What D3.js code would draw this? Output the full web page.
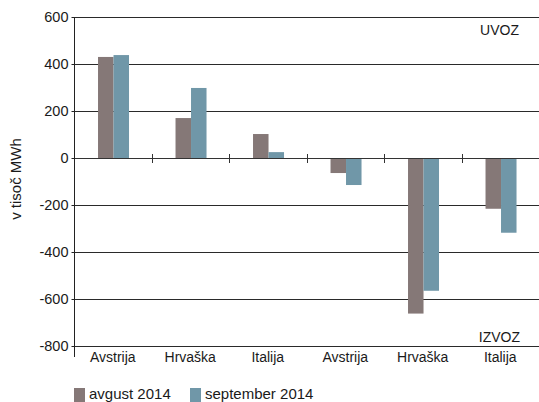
<!DOCTYPE html>
<html><head><meta charset="utf-8">
<script src="https://cdn.jsdelivr.net/npm/d3@7"></script>
<style>body{margin:0;background:#fff}svg{display:block}text{font-family:"Liberation Sans",Arial,sans-serif;fill:#1a1a1a}</style>
</head><body><div id="chart"></div>
<script>
const categories = ["Avstrija","Hrvaška","Italija","Avstrija","Hrvaška","Italija"];
const seriesNames = ["avgust 2014","september 2014"];
const avgust = [430, 170, 102, -64, -662, -216];
const september = [438, 298, 25, -115, -565, -318];
const yTicks = [600,400,200,0,-200,-400,-600,-800];
const colors = ["#857877","#7097a8"];

const W=539,H=402;
const mLeft=74,mRight=539,mTop=17,mBottom=346;
const svg=d3.select("#chart").append("svg").attr("width",W).attr("height",H);
const y=d3.scaleLinear().domain([-800,600]).range([mBottom,mTop]);
const x=d3.scaleBand().domain(d3.range(categories.length)).range([mLeft,mRight]);
const x1=d3.scaleBand().domain(seriesNames).range([x.bandwidth()*0.31,x.bandwidth()*0.71]);

// gridlines
svg.append("g").selectAll("line").data(yTicks).join("line")
 .attr("x1",mLeft).attr("x2",mRight)
 .attr("y1",d=>Math.round(y(d))+0.5).attr("y2",d=>Math.round(y(d))+0.5)
 .attr("stroke","#2a2a2a").attr("stroke-width",1);

// bars
const data=categories.map((c,i)=>({i,vals:[avgust[i],september[i]]}));
svg.append("g").selectAll("g").data(data).join("g")
 .attr("transform",d=>`translate(${x(d.i)},0)`)
 .selectAll("rect").data(d=>d.vals.map((v,k)=>({v,k}))).join("rect")
 .attr("x",d=>x1(seriesNames[d.k])).attr("width",x1.bandwidth())
 .attr("y",d=>y(Math.max(0,d.v))).attr("height",d=>Math.abs(y(d.v)-y(0)))
 .attr("fill",d=>colors[d.k]);

// zero line on top
svg.append("line").attr("x1",mLeft).attr("x2",mRight)
 .attr("y1",Math.round(y(0))+0.5).attr("y2",Math.round(y(0))+0.5)
 .attr("stroke","#333");

// category separator ticks on zero line
svg.append("g").selectAll("line").data(d3.range(1,categories.length)).join("line")
 .attr("x1",d=>Math.round(x(d))+0.5).attr("x2",d=>Math.round(x(d))+0.5)
 .attr("y1",y(0)-4).attr("y2",y(0)+5).attr("stroke","#333");

// y axis
const yAxis=d3.axisLeft(y).tickValues(yTicks).tickSize(3).tickPadding(3).tickFormat(d=>String(d));
const ga=svg.append("g").attr("transform",`translate(${mLeft+0.5},0)`).call(yAxis);
ga.select(".domain").remove();
ga.selectAll(".tick line").attr("stroke","#222");
ga.selectAll(".tick text").style("font-size","14.5px").style("font-family","Liberation Sans, Arial, sans-serif").attr("fill","#1a1a1a");
svg.append("line").attr("x1",mLeft+0.5).attr("x2",mLeft+0.5).attr("y1",mTop).attr("y2",mBottom+11).attr("stroke","#222");

// category labels
svg.append("g").selectAll("text").data(categories).join("text")
 .attr("x",(d,i)=>x(i)+x.bandwidth()/2).attr("y",362)
 .attr("text-anchor","middle").style("font-size","14px").text(d=>d);

// y label
svg.append("text").attr("transform","translate(21,179) rotate(-90)")
 .attr("text-anchor","middle").style("font-size","15px").text("v tisoč MWh");

// UVOZ / IZVOZ
svg.append("text").attr("x",519).attr("y",35).attr("text-anchor","end").style("font-size","14px").text("UVOZ");
svg.append("text").attr("x",520).attr("y",342).attr("text-anchor","end").style("font-size","14px").text("IZVOZ");

// legend
const legX=[74,190];
const lg=svg.append("g").selectAll("g").data(seriesNames).join("g")
 .attr("transform",(d,i)=>`translate(${legX[i]},0)`);
lg.append("rect").attr("x",0).attr("y",388).attr("width",11).attr("height",14).attr("fill",(d,i)=>colors[i]);
lg.append("text").attr("x",15).attr("y",399).style("font-size","15px").text(d=>d);
</script></body></html>
